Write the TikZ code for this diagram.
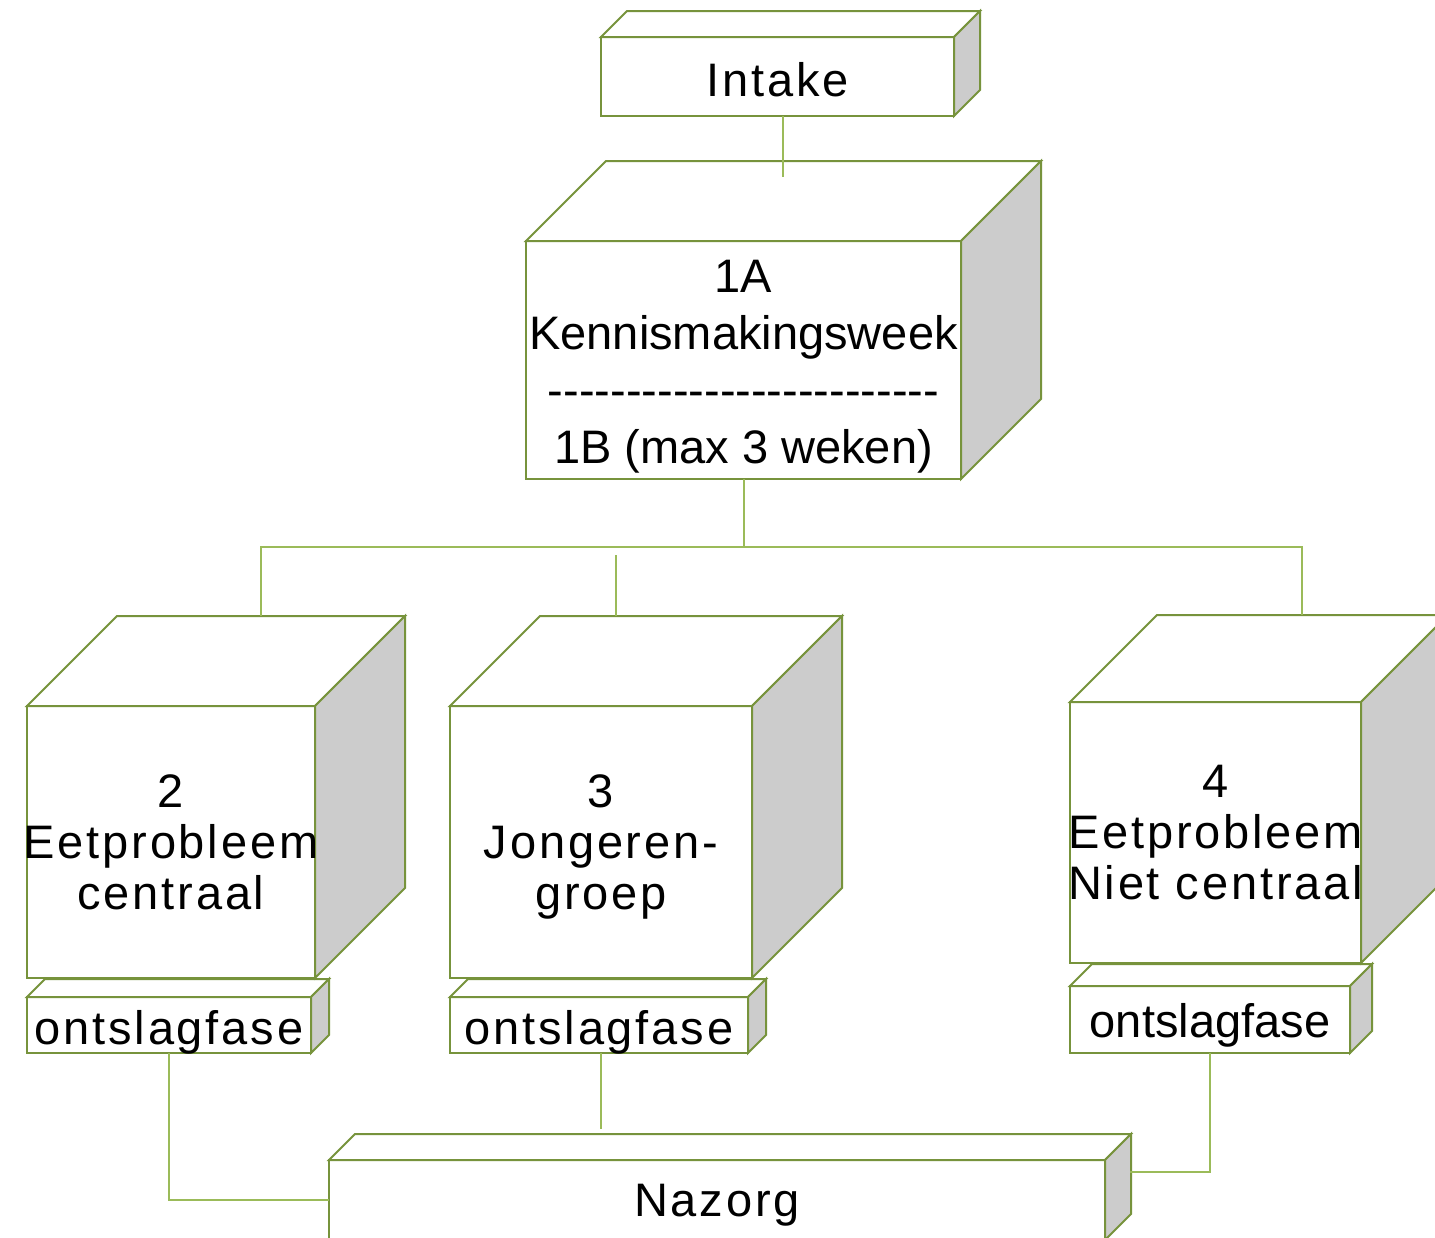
\documentclass[tikz,border=0pt]{standalone}
\usepackage{fontspec}
\setmainfont{Liberation Sans}
\newfontfamily\widef[LetterSpace=6]{Liberation Sans}
\usetikzlibrary{calc}
\definecolor{edgegreen}{HTML}{77933C}
\definecolor{conngreen}{HTML}{9BBB59}
\definecolor{sidegray}{HTML}{CCCCCC}
% #1 name, #2 x1, #3 y1, #4 x2, #5 y2, #6 depth
\newcommand\cuboid[6]{%
  \node[face, minimum width={(#4-#2)*0.5pt}, minimum height={(#5-#3)*0.5pt}] (#1) at ({(#2+#4)/2},{(#3+#5)/2}) {};
  \filldraw[edge, fill=white] (#1.north west) -- ++(#6,-#6) -- ($(#1.north east)+(#6,-#6)$) -- (#1.north east) -- cycle;
  \filldraw[edge, fill=sidegray] (#1.north east) -- ++(#6,-#6) -- ($(#1.south east)+(#6,-#6)$) -- (#1.south east) -- cycle;
  \coordinate (#1-tb) at ($(#1.north)+(#6,-#6)$);
}
\newcommand\mydashes{-{}-{}-{}-{}-{}-{}-{}-{}-{}-{}-{}-{}-{}-{}-{}-{}-{}-{}-{}-{}-{}-{}-{}-{}-}
\begin{document}
\begin{tikzpicture}[x=0.5pt,y=-0.5pt,
 face/.style={draw=edgegreen, line width=1pt, fill=white, inner sep=0pt, outer sep=0pt},
 edge/.style={draw=edgegreen, line width=1pt, line join=miter},
 conn/.style={draw=conngreen, line width=1pt},
 widetxt/.style={font=\widef\fontsize{23.5pt}{25.5pt}\selectfont, align=center, inner sep=0pt},
 plaintxt/.style={font=\fontsize{23.5pt}{28.5pt}\selectfont, align=center, inner sep=0pt}]
\useasboundingbox (0,0) rectangle (1435,1237);
\clip (0,0) rectangle (1435,1237);
\fill[white] (0,0) rectangle (1435,1237);

% boxes
\cuboid{intake}{601}{37}{954}{116}{26}
\node[widetxt, yshift=-1.5pt] (intake-l) at (intake) {Intake};

\cuboid{k1}{526}{241}{961}{479}{80}
\node[plaintxt, yshift=-3.5pt] (k1-l) at (k1) {1A\\Kennismakingsweek\\\mydashes\\1B (max 3 weken)};

\cuboid{o2}{27}{997}{311}{1053}{18}
\cuboid{n2}{27}{706}{315}{978}{90}
\node[widetxt] (n2-l) at (n2) {2\\Eetprobleem\\centraal};
\node[widetxt, yshift=-3.5pt] (o2-l) at (o2) {ontslagfase};

\cuboid{o3}{450}{997}{748}{1053}{18}
\cuboid{n3}{450}{706}{752}{978}{90}
\node[widetxt, yshift=-2.5pt] (n3-l) at (n3) {3\\Jongeren-\\groep};
\node[widetxt, yshift=-3.5pt] (o3-l) at (o3) {ontslagfase};

\cuboid{o4}{1070}{986}{1350}{1053}{22}
\cuboid{n4}{1070}{702}{1361}{963}{87}
\node[widetxt] (n4-l) at (n4) {4\\Eetprobleem\\Niet centraal};
\node[plaintxt, yshift=-3pt] (o4-l) at (o4) {ontslagfase};

\cuboid{nz}{329}{1160}{1105}{1240}{26}
\node[widetxt, yshift=-2.5pt] (nz-l) at (nz) {Nazorg};

% connectors
\coordinate (c1) at (783,177);
\draw[conn] (c1 |- intake.south) -- (c1);

\coordinate (jL) at (261,547);
\coordinate (jR) at (1302,547);
\coordinate (jM) at (616,555);
\draw[conn] (k1.south) -- (k1.south |- jL);
\draw[conn] (n2-tb -| jL) -- (jL) -- (jR) -- (jR |- n4-tb);
\draw[conn] (jM) -- (jM |- n3-tb);

\draw[conn] (o2.south) -- (o2.south |- nz.west) -- (nz.west);
\coordinate (c3) at (601,1129);
\draw[conn] (c3 |- o3.south) -- (c3);
\coordinate (c4) at (1130,1172);
\draw[conn] (o4.south) -- (o4.south |- c4) -- (c4);
\end{tikzpicture}
\end{document}
